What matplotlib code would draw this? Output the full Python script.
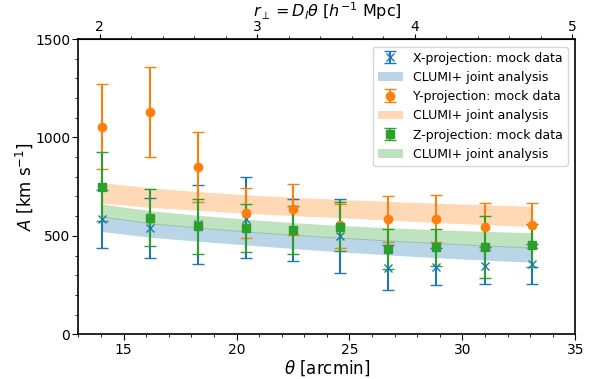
import numpy as np
import matplotlib
matplotlib.use("Agg")
import matplotlib.pyplot as plt
from matplotlib.ticker import MultipleLocator, FixedLocator

theta = [14.06, 16.17, 18.28, 20.40, 22.50, 24.60, 26.72, 28.85, 30.98, 33.08]

# X-projection mock data (centre, upper end, lower end)
x_val = [585, 542, 558, 588, 531, 500, 339, 344, 349, 356]
x_hi = [733, 693, 760, 801, 689, 689, 452, 437, 443, 457]
x_lo = [437, 388, 356, 390, 373, 309, 226, 251, 255, 255]

# Y-projection mock data
y_val = [1052, 1128, 850, 618, 634, 555, 586, 586, 547, 556]
y_hi = [1270, 1360, 1027, 745, 765, 664, 705, 707, 669, 669]
y_lo = [838, 899, 671, 490, 502, 437, 468, 468, 429, 440]

# Z-projection mock data
z_val = [748, 593, 549, 539, 530, 544, 432, 441, 444, 453]
z_hi = [926, 737, 689, 664, 654, 671, 534, 537, 602, 562]
z_lo = [576, 448, 407, 417, 407, 424, 330, 345, 287, 344]

# CLUMI+ joint analysis bands
bx_up = [600, 567, 545, 525, 508, 493, 479, 466, 454, 443]
bx_lo = [522, 493, 473, 454, 436, 419, 403, 389, 377, 366]
by_up = [770, 744, 725, 709, 696, 685, 675, 666, 658, 650]
by_lo = [666, 645, 630, 615, 603, 592, 580, 568, 557, 547]
bz_up = [661, 628, 605, 585, 567, 553, 541, 531, 523, 516]
bz_lo = [595, 562, 540, 520, 503, 488, 474, 461, 449, 438]

# top-axis (r_perp) ticks
r_major = [2, 3, 4, 5]
r_minor = [1.8, 2.2, 2.4, 2.6, 2.8, 3.2, 3.4, 3.6, 3.8, 4.2, 4.4, 4.6, 4.8]

r_per_arcmin = 0.1434

fig = plt.figure(figsize=(5.95, 3.79), dpi=100)
ax = fig.add_axes([0.1318, 0.118, 0.8352, 0.779])

def yerr(v, hi, lo):
    v = np.array(v); return [v - np.array(lo), np.array(hi) - v]

c_b, c_o, c_g = "tab:blue", "tab:orange", "tab:green"

bx = ax.fill_between(theta, bx_lo, bx_up, color=c_b, alpha=0.3, lw=0)
by = ax.fill_between(theta, by_lo, by_up, color=c_o, alpha=0.3, lw=0)
bz = ax.fill_between(theta, bz_lo, bz_up, color=c_g, alpha=0.3, lw=0)

ex = ax.errorbar(theta, x_val, yerr=yerr(x_val, x_hi, x_lo), fmt="x", color=c_b, ms=6,
                 capsize=4, elinewidth=1.5)
ey = ax.errorbar(theta, y_val, yerr=yerr(y_val, y_hi, y_lo), fmt="o", color=c_o, ms=6,
                 capsize=4, elinewidth=1.5)
ez = ax.errorbar(theta, z_val, yerr=yerr(z_val, z_hi, z_lo), fmt="s", color=c_g, ms=6,
                 capsize=4, elinewidth=1.5)

ax.set_xlim(13, 35)
ax.set_ylim(0, 1500)
ax.xaxis.set_major_locator(MultipleLocator(5))
ax.xaxis.set_minor_locator(MultipleLocator(1))
ax.yaxis.set_major_locator(MultipleLocator(500))
ax.yaxis.set_minor_locator(MultipleLocator(100))
ax.tick_params(which="both", direction="out", labelsize=10, pad=2)
ax.tick_params(which="major", length=4)
ax.tick_params(which="minor", length=2.5)
for s in ax.spines.values():
    s.set_linewidth(1.2)

ax.set_xlabel(r"$\theta$ [arcmin]", fontsize=12, labelpad=1)
ax.set_ylabel(r"$A$ [km s$^{-1}$]", fontsize=12, labelpad=0)

sec = ax.secondary_xaxis("top", functions=(lambda t: t * r_per_arcmin, lambda r: r / r_per_arcmin))
sec.xaxis.set_major_locator(FixedLocator(r_major))
sec.xaxis.set_minor_locator(FixedLocator(r_minor))
sec.tick_params(which="both", direction="out", labelsize=10, pad=0)
sec.tick_params(which="major", length=3.5)
sec.tick_params(which="minor", length=2.5)
sec.set_xlabel(r"$r_\perp = D_l\theta$ [$h^{-1}$ Mpc]", fontsize=11.5, labelpad=2)

ax.legend([ex, bx, ey, by, ez, bz],
          ["X-projection: mock data", "CLUMI+ joint analysis",
           "Y-projection: mock data", "CLUMI+ joint analysis",
           "Z-projection: mock data", "CLUMI+ joint analysis"],
          loc="upper right", fontsize=9, handlelength=2.0, borderpad=0.4,
          labelspacing=0.5, borderaxespad=0.6)

fig.savefig("out.png", dpi=100)
